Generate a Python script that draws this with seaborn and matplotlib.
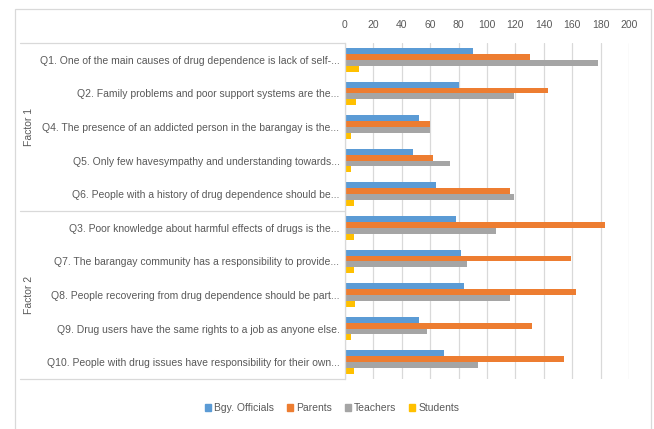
import matplotlib
matplotlib.use("Agg")
import matplotlib.pyplot as plt
import matplotlib.transforms as mtransforms
from matplotlib.patches import Rectangle
from matplotlib.lines import Line2D
import seaborn as sns
import pandas as pd

# Statements, grouped by factor (top to bottom)
questions = [
    "Q1. One of the main causes of drug dependence is lack of self-...",
    "Q2. Family problems and poor support systems are the...",
    "Q4. The presence of an addicted person in the barangay is the...",
    "Q5. Only few havesympathy and understanding towards...",
    "Q6. People with a history of drug dependence should be...",
    "Q3. Poor knowledge about harmful effects of drugs is the...",
    "Q7. The barangay community has a responsibility to provide...",
    "Q8. People recovering from drug dependence should be part...",
    "Q9. Drug users have the same rights to a job as anyone else.",
    "Q10. People with drug issues have responsibility for their own...",
]
factors = ["Factor 1", "Factor 2"]
groups = ["Bgy. Officials", "Parents", "Teachers", "Students"]

bgy_officials = [90, 80, 52, 48, 64, 78, 82, 84, 52, 70]
parents = [130, 143, 60, 62, 116, 183, 159, 163, 132, 154]
teachers = [178, 119, 60, 74, 119, 106, 86, 116, 58, 94]
students = [10, 8, 4, 4, 6, 6, 6, 7, 4, 6]

x_ticks = [0, 20, 40, 60, 80, 100, 120, 140, 160, 180, 200]

colors = ["#5B9BD5", "#ED7D31", "#A5A5A5", "#FFC000"]

df = pd.DataFrame({
    "question": questions * 4,
    "group": [g for g in groups for _ in questions],
    "value": bgy_officials + parents + teachers + students,
})

sns.set_theme(style="white")
plt.rcParams["font.family"] = ["Liberation Sans", "DejaVu Sans"]
text_color = "#595959"
grid_color = "#D9D9D9"

W, H = 654, 429
fig = plt.figure(figsize=(W / 100, H / 100), dpi=100)
left, right, top, bottom = 345, 629, 43, 379
ax = fig.add_axes([left / W, 1 - bottom / H, (right - left) / W, (bottom - top) / H])

sns.barplot(data=df, y="question", x="value", hue="group", order=questions,
            hue_order=groups, palette=colors, saturation=1, orient="h",
            width=0.7, linewidth=0, ax=ax, legend=False)

ax.set_xlim(0, 200)
ax.set_xticks(x_ticks)
ax.xaxis.tick_top()
ax.set_xlabel("")
ax.set_ylabel("")
ax.grid(axis="x", color=grid_color, linewidth=0.9)
ax.set_axisbelow(True)
for s in ["top", "right", "bottom"]:
    ax.spines[s].set_visible(False)
ax.spines["left"].set_color(grid_color)
ax.spines["left"].set_linewidth(0.9)
ax.tick_params(axis="x", length=0, pad=9, labelsize=7.5, labelcolor=text_color)
ax.tick_params(axis="y", length=0, pad=4, labelsize=7.5, labelcolor=text_color)

# Factor separators along the category axis
trans = mtransforms.blended_transform_factory(fig.transFigure, ax.transData)
for yb in [-0.5, 4.5, 9.5]:
    fig.add_artist(Line2D([20 / W, left / W], [yb, yb], transform=trans,
                          color=grid_color, linewidth=0.9))
for i, name in enumerate(factors):
    ax.text(29 / W, 2 + 5 * i, name, transform=trans, rotation=90,
            ha="center", va="center", fontsize=7.5, color=text_color)

# Chart frame
fig.add_artist(Rectangle((15 / W, -0.05), (651 - 15) / W, 1.05 - 9 / H,
                         transform=fig.transFigure, fill=False,
                         edgecolor=grid_color, linewidth=0.9))

handles = [Rectangle((0, 0), 1, 1, color=c) for c in colors]
leg = fig.legend(handles, groups, loc="center", bbox_to_anchor=(332 / W, 1 - 408 / H),
                 ncol=4, frameon=False, fontsize=7.5, handlelength=0.6,
                 handleheight=0.6, handletextpad=0.3, columnspacing=1.2)
for t in leg.get_texts():
    t.set_color(text_color)

fig.savefig("out.png", dpi=100)
